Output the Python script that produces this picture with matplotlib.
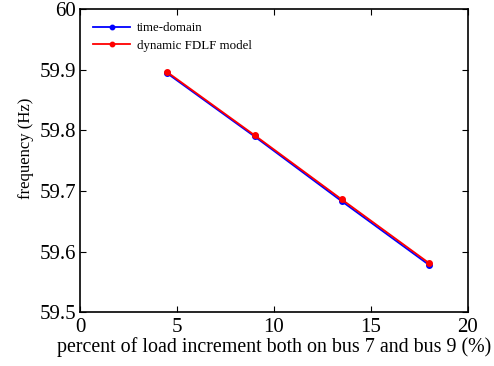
import matplotlib.pyplot as plt

# load increment (%) and resulting frequency (Hz)
load_pct = [4.5, 9, 13.5, 18]
freq_time = [59.894, 59.790, 59.683, 59.578]
freq_fdlf = [59.896, 59.792, 59.686, 59.581]

plt.rcParams['font.family'] = ['Liberation Serif', 'DejaVu Serif']

fig = plt.figure(figsize=(4.94, 3.66), dpi=100)
ax = fig.add_axes([0.162, 0.147, 0.785, 0.828])

ax.plot(load_pct, freq_time, '-o', color='blue', lw=1.3, ms=4, label='time-domain')
ax.plot(load_pct, freq_fdlf, '-o', color='red', lw=1.3, ms=4, label='dynamic FDLF model')

ax.set_xlim(0, 20)
ax.set_ylim(59.5, 60)
ax.set_xticks([0, 5, 10, 15, 20])
ax.set_yticks([59.5, 59.6, 59.7, 59.8, 59.9, 60])
ax.set_yticklabels(['59.5', '59.6', '59.7', '59.8', '59.9', '60'])
ax.tick_params(direction='in', top=True, right=True, labelsize=15, length=4, pad=3)
ax.tick_params(axis='x', pad=4)
for s in ax.spines.values():
    s.set_linewidth(1.2)

ax.set_xlabel('percent of load increment both on bus 7 and bus 9 (%)', fontsize=14.4, labelpad=0)
ax.set_ylabel('frequency (Hz)', fontsize=12)
ax.yaxis.set_label_coords(-0.118, 0.54)

ax.legend(loc='upper left', frameon=False, fontsize=9.3, handlelength=2.9,
          borderaxespad=0.6, labelspacing=0.45, markerscale=0.8, handletextpad=0.5)

fig.savefig('out.png', dpi=100)
